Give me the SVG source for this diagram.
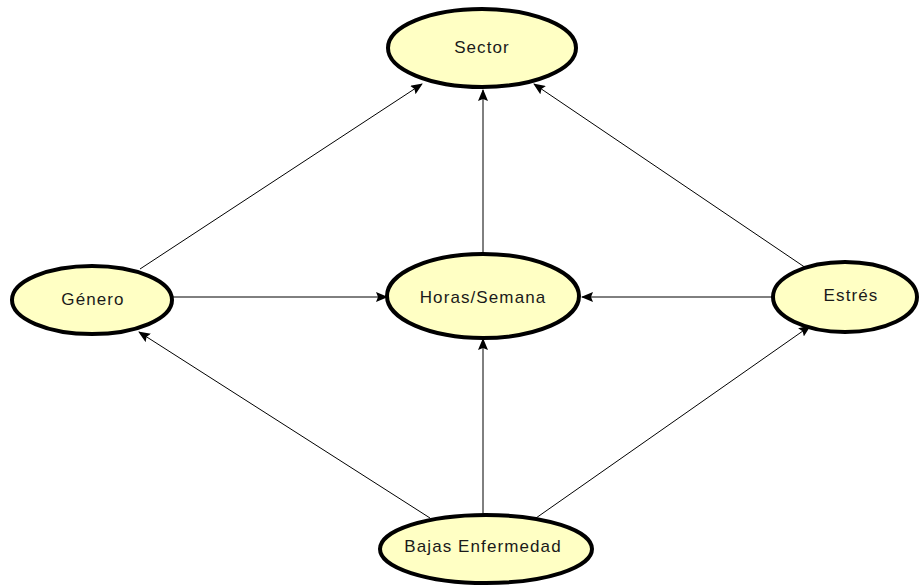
<svg xmlns="http://www.w3.org/2000/svg" width="920" height="585" viewBox="0 0 920 585">
  <style>
    .node ellipse { fill: #ffffc4; stroke: #000; stroke-width: 4; }
    .node text { font-family: "Liberation Sans", Arial, sans-serif; font-size: 17px; letter-spacing: 1.1px; fill: #1a1a1a; text-anchor: middle; dominant-baseline: central; }
    .edge { stroke: #000; stroke-width: 1; fill: none; marker-end: url(#arrow); }
  </style>
  <defs>
    <marker id="arrow" viewBox="0 0 12 10" refX="11" refY="5" markerWidth="12" markerHeight="10" markerUnits="userSpaceOnUse" orient="auto">
      <path d="M0,0 L12,5 L0,10 L2,5 Z" fill="#000"/>
    </marker>
  </defs>

  <g id="connectors">
    <line class="edge" x1="140" y1="269" x2="422" y2="84"/>
    <line class="edge" x1="483" y1="253" x2="483" y2="90"/>
    <line class="edge" x1="806" y1="268" x2="534" y2="84"/>
    <line class="edge" x1="172" y1="297" x2="387" y2="297"/>
    <line class="edge" x1="772" y1="297" x2="582" y2="297"/>
    <line class="edge" x1="430" y1="518" x2="139" y2="332"/>
    <line class="edge" x1="483" y1="515" x2="483" y2="339"/>
    <line class="edge" x1="536" y1="518" x2="810" y2="326"/>
  </g>

  <g id="sector" class="node">
    <ellipse cx="482" cy="48" rx="94" ry="39"/>
    <text x="482" y="47">Sector</text>
  </g>
  <g id="genero" class="node">
    <ellipse cx="92" cy="300" rx="80" ry="34"/>
    <text x="93" y="299">Género</text>
  </g>
  <g id="horas-semana" class="node">
    <ellipse cx="483" cy="296" rx="96" ry="42"/>
    <text x="483" y="297">Horas/Semana</text>
  </g>
  <g id="estres" class="node">
    <ellipse cx="845" cy="297" rx="72" ry="35"/>
    <text x="851" y="295">Estrés</text>
  </g>
  <g id="bajas-enfermedad" class="node">
    <ellipse cx="486" cy="549" rx="106" ry="34"/>
    <text x="483" y="546">Bajas Enfermedad</text>
  </g>
</svg>
